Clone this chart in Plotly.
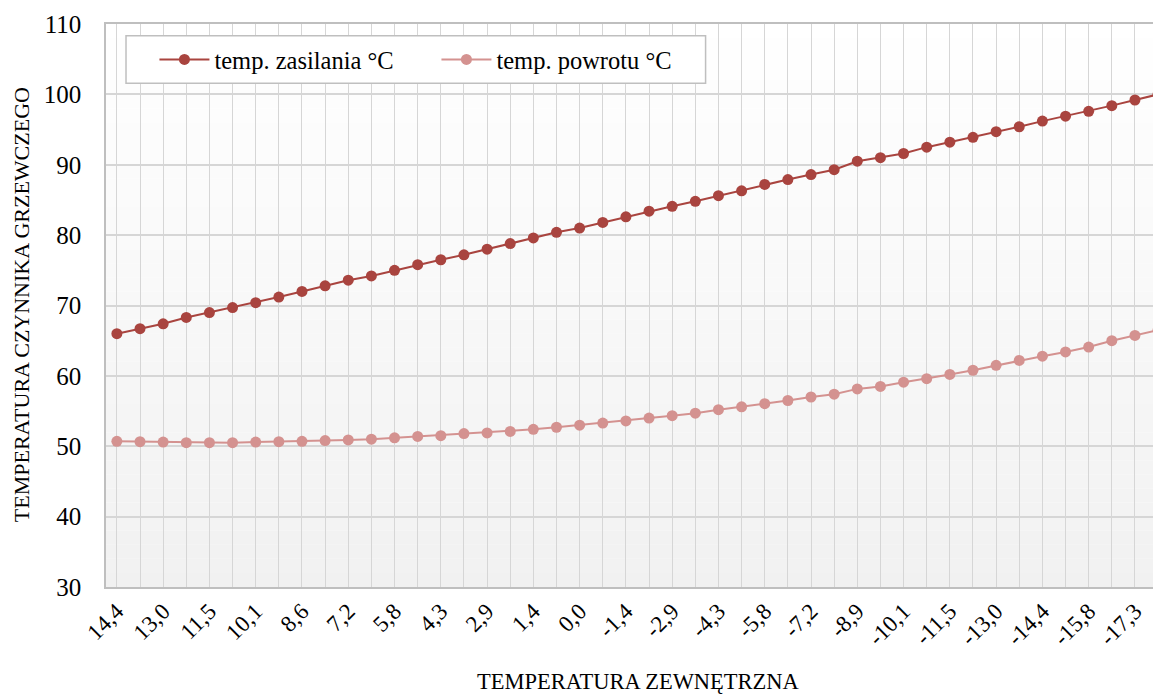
import plotly.graph_objects as go

# Outside temperature categories (°C, Polish decimal comma)
temp_zewn = ["14,4", "13,7", "13,0", "12,2", "11,5", "10,8", "10,1", "9,4", "8,6", "7,9",
             "7,2", "6,5", "5,8", "5,0", "4,3", "3,6", "2,9", "2,2", "1,4", "0,7",
             "0,0", "-0,7", "-1,4", "-2,2", "-2,9", "-3,6", "-4,3", "-5,0", "-5,8", "-6,5",
             "-7,2", "-8,2", "-8,9", "-9,4", "-10,1", "-10,8", "-11,5", "-12,2", "-13,0", "-13,7",
             "-14,4", "-15,1", "-15,8", "-16,6", "-17,3", "-18,0"]

temp_zasilania = [66.0, 66.7, 67.4, 68.3, 69.0, 69.7, 70.4, 71.2, 72.0, 72.8,
                  73.6, 74.2, 75.0, 75.8, 76.5, 77.2, 78.0, 78.8, 79.6, 80.4,
                  81.0, 81.8, 82.6, 83.4, 84.1, 84.8, 85.6, 86.3, 87.2, 87.9,
                  88.6, 89.3, 90.5, 91.0, 91.6, 92.5, 93.2, 93.9, 94.7, 95.4,
                  96.2, 96.9, 97.6, 98.4, 99.2, 100.0]

temp_powrotu = [50.7, 50.65, 50.6, 50.5, 50.5, 50.5, 50.6, 50.65, 50.7, 50.8,
                50.9, 51.0, 51.2, 51.4, 51.5, 51.8, 51.9, 52.1, 52.4, 52.7,
                53.0, 53.3, 53.6, 54.0, 54.35, 54.7, 55.2, 55.6, 56.05, 56.5,
                57.0, 57.4, 58.15, 58.5, 59.1, 59.6, 60.2, 60.8, 61.5, 62.2,
                62.8, 63.4, 64.1, 65.0, 65.75, 66.5]

y_ticks = [30, 40, 50, 60, 70, 80, 90, 100, 110]

names = ["temp. zasilania °C", "temp. powrotu °C"]
colors = ["#A9443F", "#D49290"]

FONT = "Liberation Serif"

fig = go.Figure()
for vals, name, col in zip([temp_zasilania, temp_powrotu], names, colors):
    fig.add_trace(go.Scatter(
        x=temp_zewn, y=vals, name=name, mode="lines+markers",
        line=dict(color=col, width=2),
        marker=dict(color=col, size=11),
    ))

# gradient background of plot area
shapes = []
n = 40
for i in range(n):
    g = 255 - (255 - 241) * (i + 0.5) / n
    c = f"rgb({g:.0f},{g:.0f},{g:.0f})"
    shapes.append(dict(type="rect", xref="paper", yref="paper",
                       x0=0, x1=1, y0=1 - (i + 1) / n, y1=1 - i / n,
                       fillcolor=c, line=dict(width=0), layer="below"))
# legend box
shapes.append(dict(type="rect", xref="paper", yref="paper",
                   x0=0.019, x1=0.5694, y0=0.8947, y1=0.9792,
                   fillcolor="white", line=dict(color="#BFBFBF", width=1.5), layer="above"))

ticktext = [c if i % 2 == 0 else "" for i, c in enumerate(temp_zewn)]

# page body has an 8px margin; figure sized so the plot lands where the reference has it
fig.update_layout(
    width=1153, height=687,
    margin=dict(l=98, r=0, t=16, b=108),
    paper_bgcolor="white", plot_bgcolor="rgba(0,0,0,0)",
    font=dict(family=FONT, size=22, color="#000000"),
    shapes=shapes,
    showlegend=True,
    legend=dict(orientation="h", x=0.046, y=0.937, xanchor="left", yanchor="middle",
                bgcolor="rgba(0,0,0,0)", borderwidth=0,
                font=dict(family=FONT, size=24.5),
                entrywidth=217, entrywidthmode="pixels", itemwidth=50),
    xaxis=dict(type="category", range=[-0.47, 45.04],
               tickmode="array", tickvals=temp_zewn, ticktext=ticktext,
               tickangle=-45, tickfont=dict(family=FONT, size=23),
               showgrid=True, gridcolor="#D6D6D6", gridwidth=1.2,
               showline=True, linecolor="#BFBFBF", linewidth=1.5, mirror=True,
               ticks="", zeroline=False),
    yaxis=dict(range=[30, 110], tickmode="array", tickvals=y_ticks,
               tickfont=dict(family=FONT, size=25),
               showgrid=True, gridcolor="#D6D6D6", gridwidth=1.5,
               showline=True, linecolor="#BFBFBF", linewidth=1.5, mirror=True,
               ticks="", ticklabelstandoff=18, zeroline=False),
    annotations=[
        dict(text="TEMPERATURA ZEWNĘTRZNA", xref="paper", yref="paper",
             x=0.506, y=-0.168, xanchor="center", yanchor="middle", showarrow=False,
             font=dict(family=FONT, size=22.5)),
        dict(text="TEMPERATURA CZYNNIKA GRZEWCZEGO", xref="paper", yref="paper",
             x=-0.0796, y=0.5009, xanchor="center", yanchor="middle", showarrow=False,
             textangle=-90, font=dict(family=FONT, size=22)),
    ],
)

fig.write_html("out.html")
